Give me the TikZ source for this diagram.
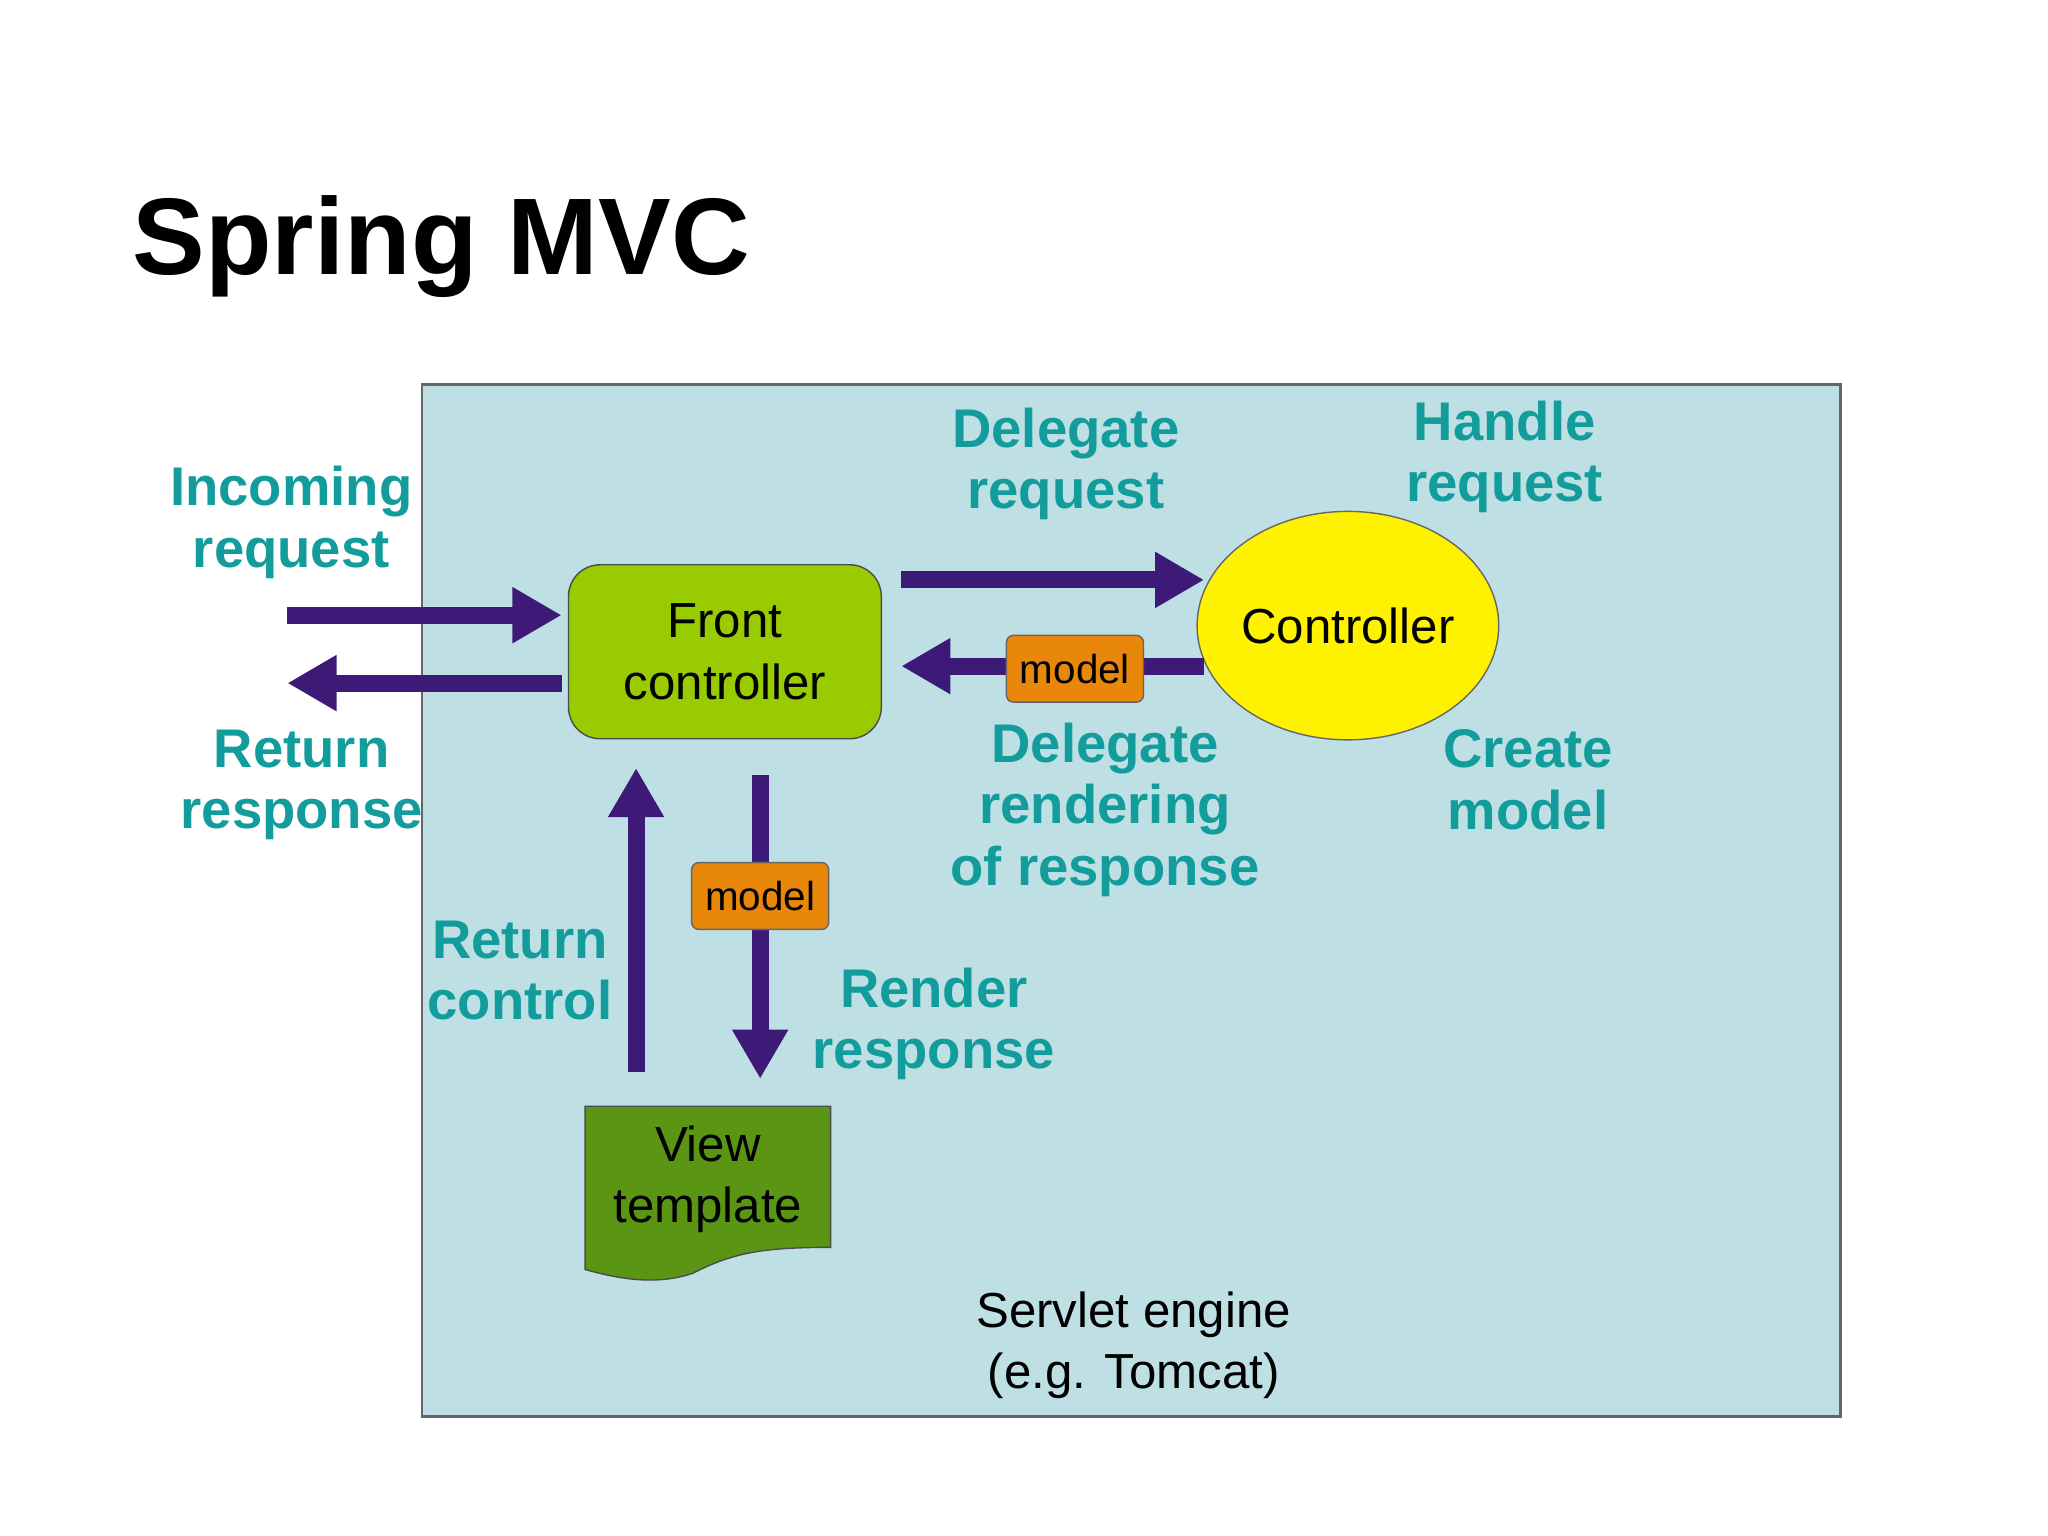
\documentclass[tikz,border=0pt]{standalone}
\usepackage{fontspec}
\setmainfont{Liberation Sans}
\usetikzlibrary{arrows.meta,shapes.geometric}
\definecolor{bgbox}{HTML}{BEE0E4}
\definecolor{fc}{HTML}{99CC00}
\definecolor{vt}{HTML}{5A9614}
\definecolor{arr}{HTML}{3D1A78}
\definecolor{lbl}{HTML}{129C9C}
\definecolor{mdl}{HTML}{E8870A}
\begin{document}
\begin{tikzpicture}[x=0.01306cm,y=-0.01306cm,
  arrow/.style={draw=arr,line width=4.8pt,-{Triangle[length=14pt,width=15pt]}},
  lab/.style={text=lbl,font=\fontsize{15.5}{17.5}\selectfont\bfseries,align=center},
  mod/.style={draw=black!60,fill=mdl,rounded corners=2pt,minimum width=39pt,minimum height=19pt,inner sep=1pt,font=\fontsize{11.5}{13}\selectfont}]
\useasboundingbox (0,0) rectangle (1568,1176);
\node[anchor=base west,font=\fontsize{31}{36}\selectfont\bfseries] (title) at (92,210) {Spring MVC};
\node[draw=black!60,line width=0.8pt,fill=bgbox,minimum width=403.7pt,minimum height=293.8pt,anchor=north west,inner sep=0] (engine) at (322,293) {};
\node[draw=black!70,fill=fc,rounded corners=9pt,minimum width=89pt,minimum height=49.5pt,align=center,font=\fontsize{14}{17.5}\selectfont] (front) at (555,499) {Front\\controller};
\node[draw=black!60,fill=yellow,ellipse,minimum width=68pt,minimum height=65pt,inner sep=0,font=\fontsize{14}{17}\selectfont] (ctrl) at (1032,479) {Controller};
\draw[draw=black!70,fill=vt] (448,847) -- (636,847) -- (636,955) .. controls (580,955) and (560,960) .. (530,975) .. controls (500,985) and (470,978) .. (448,972) -- cycle;
\node[align=center,font=\fontsize{14}{17.5}\selectfont] (view) at (542,903) {View\\template};
\coordinate (inS) at (220,471); \coordinate (inE) at (430,471);
\coordinate (outS) at (430,523); \coordinate (outE) at (220,523);
\draw[arrow] (inS) -- (inE);
\draw[arrow] (outS) -- (outE);
\coordinate (dS) at (690,444); \coordinate (dE) at (922,444);
\draw[arrow] (dS) -- (dE);
\coordinate (bS) at (922,510); \coordinate (bE) at (690,510);
\draw[arrow] (bS) -- (bE);
\node[mod] (m1) at (823,512) {model};
\coordinate (vS) at (582,593); \coordinate (vE) at (582,826);
\draw[arrow] (vS) -- (vE);
\node[mod] (m2) at (582,686) {model};
\coordinate (uS) at (487,821); \coordinate (uE) at (487,588);
\draw[arrow] (uS) -- (uE);
\node[lab] at (223,400) {Incoming\\request};
\node[lab] at (231,601) {Return\\response};
\node[lab] at (816,355) {Delegate\\request};
\node[lab] at (1152,350) {Handle\\request};
\node[lab] at (846,620) {Delegate\\rendering\\of response};
\node[lab] at (1170,597) {Create\\model};
\node[lab] at (398,743) {Return\\control};
\node[lab] at (715,784) {Render\\response};
\node[align=center,font=\fontsize{14}{17.5}\selectfont] (se) at (868,1030) {Servlet engine\\(e.g. Tomcat)};
\end{tikzpicture}
\end{document}
